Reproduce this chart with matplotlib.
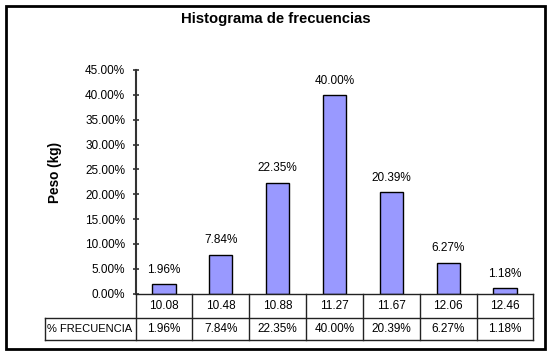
import matplotlib
matplotlib.use("Agg")
import matplotlib.pyplot as plt
from matplotlib.ticker import FuncFormatter, MultipleLocator
from matplotlib.lines import Line2D
from matplotlib.patches import Rectangle

categories = ["10.08", "10.48", "10.88", "11.27", "11.67", "12.06", "12.46"]
frequencies = [1.96, 7.84, 22.35, 40.00, 20.39, 6.27, 1.18]
row_label = "% FRECUENCIA"
title = "Histograma de frecuencias"
ylabel = "Peso (kg)"

W, H = 551, 358
plt.rcParams['font.family'] = ['Liberation Sans', 'DejaVu Sans']
fig = plt.figure(figsize=(W / 100, H / 100), dpi=100)

FS = 8.5
ax_l, ax_r, ax_t, ax_b = 135.6, 533.4, 70.0, 293.7
ax = fig.add_axes([ax_l / W, 1 - ax_b / H, (ax_r - ax_l) / W, (ax_b - ax_t) / H])
n = len(categories)
x = list(range(n))
bars = ax.bar(x, frequencies, width=0.41, color="#9999FF", edgecolor="black", linewidth=1.0)
ax.bar_label(bars, labels=[f"{v:.2f}%" for v in frequencies], padding=6, fontsize=FS)
ax.set_xlim(-0.5, n - 0.5)
ax.set_ylim(0, 45)
ax.yaxis.set_major_locator(MultipleLocator(5))
ax.yaxis.set_major_formatter(FuncFormatter(lambda v, p: f"{v:.2f}%"))
ax.tick_params(axis='y', direction='inout', length=5, width=1.2, color='#333333', labelsize=FS, pad=5)
ax.set_xticks([])
for s in ["top", "right", "bottom"]:
    ax.spines[s].set_visible(False)
ax.spines["left"].set_color("#333333")
ax.spines["left"].set_linewidth(1.5)
ax.patch.set_alpha(0)

# title and y label
fig.text(276 / W, 1 - 19 / H, title, ha='center', va='center', fontsize=10.7, fontweight='bold')
fig.text(55 / W, 1 - 172 / H, ylabel, ha='center', va='center', rotation=90, fontsize=9.8, fontweight='bold')

# data table below axis
def fx(px):
    return px / W
def fy(py):
    return 1 - py / H

col_w = (ax_r - ax_l) / n
r1_t, r1_b, r2_b = ax_b, 318.0, 339.5
row_left = 45.0
lc = '#222222'
lw = 1.0
def hline(x0, x1, y):
    fig.add_artist(Line2D([fx(x0), fx(x1)], [fy(y), fy(y)], color=lc, lw=lw))
def vline(x0, y0, y1):
    fig.add_artist(Line2D([fx(x0), fx(x0)], [fy(y0), fy(y1)], color=lc, lw=lw))

hline(ax_l, ax_r, r1_t)
hline(row_left, ax_r, r1_b)
hline(row_left, ax_r, r2_b)
for i in range(n + 1):
    vline(ax_l + i * col_w, r1_t, r2_b)
vline(row_left, r1_b, r2_b)

for i, (c, v) in enumerate(zip(categories, frequencies)):
    cx = ax_l + (i + 0.5) * col_w
    fig.text(fx(cx), fy((r1_t + r1_b) / 2), c, ha='center', va='center', fontsize=FS)
    fig.text(fx(cx), fy((r1_b + r2_b) / 2), f"{v:.2f}%", ha='center', va='center', fontsize=FS)
fig.text(fx(row_left + 2), fy((r1_b + r2_b) / 2), row_label, ha='left', va='center', fontsize=8.0)

# outer frame
fig.add_artist(Rectangle((fx(6), fy(349)), (545 - 6) / W, (349 - 6) / H, fill=False,
                         edgecolor='black', linewidth=2.0, transform=fig.transFigure))

fig.savefig("out.png", dpi=100, facecolor='white')
